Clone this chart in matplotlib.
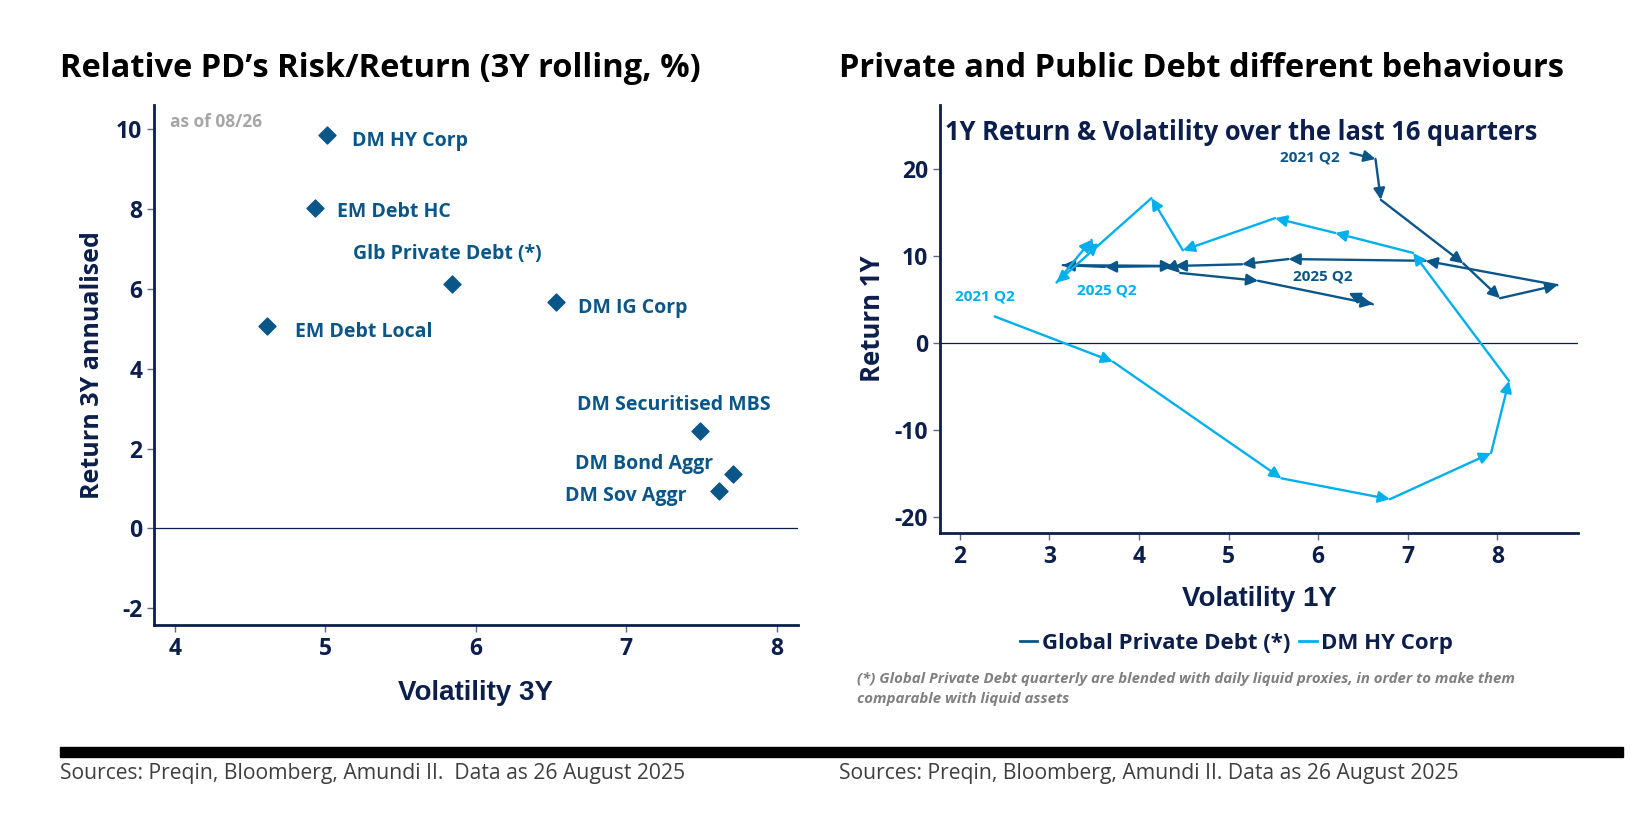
import matplotlib.pyplot as plt
from matplotlib.lines import Line2D
from matplotlib.patches import Rectangle

plt.rcParams['font.family'] = ['Open Sans', 'DejaVu Sans']
plt.rcParams['axes.unicode_minus'] = False

navy = '#0c1f4c'
dark = '#0a5688'
light = '#00b0ec'

# left chart: 3Y risk / return
names = ['DM HY Corp', 'EM Debt HC', 'Glb Private Debt (*)', 'DM IG Corp',
         'EM Debt Local', 'DM Securitised MBS', 'DM Bond Aggr', 'DM Sov Aggr']
vol3y = [5.01, 4.93, 5.84, 6.53, 4.61, 7.49, 7.71, 7.62]
ret3y = [9.85, 8.03, 6.13, 5.66, 5.06, 2.44, 1.37, 0.94]

# right chart: quarterly path 2021 Q2 -> 2025 Q2
pd_vol = [6.36, 6.64, 6.70, 7.62, 8.03, 8.67, 7.20, 5.67, 5.15, 4.40, 3.62, 3.15,
          4.38, 4.46, 5.33, 6.61, 6.34]
pd_ret = [21.8, 21.1, 16.4, 9.1, 5.1, 6.6, 9.4, 9.6, 9.0, 8.8, 8.7, 8.9,
          8.8, 8.0, 7.1, 4.4, 5.7]
hy_vol = [2.39, 3.71, 5.59, 6.80, 7.93, 8.13, 7.06, 6.19, 5.52, 4.49, 4.14, 3.08,
          3.47, 3.49]
hy_ret = [3.0, -2.2, -15.6, -18.0, -12.7, -4.4, 10.3, 12.6, 14.3, 10.6, 16.6, 6.9,
          11.8, 9.8]

fig = plt.figure(figsize=(16.42, 8.14), dpi=100)

# ---------- left
ax1 = fig.add_axes([0.0938, 0.232, 0.392, 0.639])
ax1.scatter(vol3y, ret3y, marker='D', s=75, color=dark, zorder=3)
ax1.axhline(0, color=navy, lw=0.9)
ax1.set_xlim(3.86, 8.14)
ax1.set_ylim(-2.42, 10.6)
ax1.set_xticks([4, 5, 6, 7, 8])
ax1.set_yticks([-2, 0, 2, 4, 6, 8, 10])
ax1.set_xlabel('Volatility 3Y', family=['Liberation Sans', 'DejaVu Sans'],
               fontsize=20, fontweight='bold', color=navy, labelpad=14)
ax1.set_ylabel('Return 3Y annualised', fontsize=18, fontweight='bold',
               color=navy, labelpad=8)

offs = {'DM HY Corp': (18, -4, 'left'), 'EM Debt HC': (16, -3, 'left'),
        'Glb Private Debt (*)': (-3, 21, 'center'), 'DM IG Corp': (16, -4, 'left'),
        'EM Debt Local': (20, -4, 'left'), 'DM Securitised MBS': (-19, 19, 'center'),
        'DM Bond Aggr': (-14, 7, 'right'), 'DM Sov Aggr': (-24, -4, 'right')}
for n, x, y in zip(names, vol3y, ret3y):
    dx, dy, ha = offs[n]
    ax1.annotate(n, (x, y), xytext=(dx, dy), textcoords='offset points',
                 ha=ha, va='center', fontsize=14, fontweight='bold', color=dark)
ax1.text(0.025, 0.985, 'as of 08/26', transform=ax1.transAxes, ha='left', va='top',
         fontsize=12.5, fontweight='bold', color='#a6a6a6')

# ---------- right
ax2 = fig.add_axes([0.5725, 0.345, 0.3885, 0.526])
ax2.axhline(0, color=navy, lw=0.9)
for xs, ys, c in [(pd_vol, pd_ret, dark), (hy_vol, hy_ret, light)]:
    for i in range(1, len(xs)):
        ax2.annotate('', xy=(xs[i], ys[i]), xytext=(xs[i - 1], ys[i - 1]),
                     arrowprops=dict(arrowstyle='-|>', color=c, lw=1.7,
                                     mutation_scale=17, shrinkA=0, shrinkB=0))
ax2.set_xlim(1.78, 8.9)
ax2.set_ylim(-21.9, 27.3)
ax2.set_xticks([2, 3, 4, 5, 6, 7, 8])
ax2.set_yticks([-20, -10, 0, 10, 20])
ax2.set_xlabel('Volatility 1Y', family=['Liberation Sans', 'DejaVu Sans'],
               fontsize=20, fontweight='bold', color=navy, labelpad=12)
ax2.set_ylabel('Return 1Y', fontsize=18.5, fontweight='bold', color=navy, labelpad=6)
ax2.text(0.008, 0.935, '1Y Return & Volatility over the last 16 quarters',
         transform=ax2.transAxes, ha='left', va='center', fontsize=18.4,
         fontweight='bold', color=navy)
ax2.text(6.24, 21.3, '2021 Q2', ha='right', va='center', fontsize=11,
         fontweight='bold', color=dark)
ax2.text(6.05, 7.6, '2025 Q2', ha='center', va='center', fontsize=11,
         fontweight='bold', color=dark)
ax2.text(2.28, 5.3, '2021 Q2', ha='center', va='center', fontsize=11,
         fontweight='bold', color=light)
ax2.text(3.64, 6.0, '2025 Q2', ha='center', va='center', fontsize=11,
         fontweight='bold', color=light)

for ax in (ax1, ax2):
    for s in ('top', 'right'):
        ax.spines[s].set_visible(False)
    for s in ('left', 'bottom'):
        ax.spines[s].set_color(navy)
        ax.spines[s].set_linewidth(2)
    ax.tick_params(colors='#5a6a88', length=5, width=1, labelsize=16.5)
    for lab in ax.get_xticklabels() + ax.get_yticklabels():
        lab.set_fontweight('bold')
        lab.set_color(navy)

handles = [Line2D([], [], color=dark, lw=2), Line2D([], [], color=light, lw=2)]
fig.legend(handles, ['Global Private Debt (*)', 'DM HY Corp'], loc='center',
           bbox_to_anchor=(0.753, 0.21), ncol=2, frameon=False, handlelength=0.8,
           handletextpad=0.2, columnspacing=0.4, prop=dict(weight='bold', size=16),
           labelcolor=navy)
fig.text(0.522, 0.166, '(*) Global Private Debt quarterly are blended with daily liquid '
         'proxies, in order to make them', fontsize=10.8, style='italic',
         fontweight='bold', color='#808080', va='center')
fig.text(0.522, 0.141, 'comparable with liquid assets', fontsize=10.8, style='italic',
         fontweight='bold', color='#808080', va='center')

fig.text(0.0365, 0.916, 'Relative PD\u2019s Risk/Return (3Y rolling, %)', fontsize=23.5,
         fontweight='bold', color='black', va='center')
fig.text(0.511, 0.916, 'Private and Public Debt different behaviours', fontsize=23.5,
         fontweight='bold', color='black', va='center')

fig.patches.append(Rectangle((0.0365, 0.0705), 0.952, 0.0115, transform=fig.transFigure,
                             color='black'))
fig.text(0.0365, 0.05, 'Sources: Preqin, Bloomberg, Amundi II.  Data as 26 August 2025',
         fontsize=15.2, color='#3f3f3f', va='center')
fig.text(0.511, 0.05, 'Sources: Preqin, Bloomberg, Amundi II. Data as 26 August 2025',
         fontsize=15.2, color='#3f3f3f', va='center')

fig.savefig('out.png', dpi=100)
